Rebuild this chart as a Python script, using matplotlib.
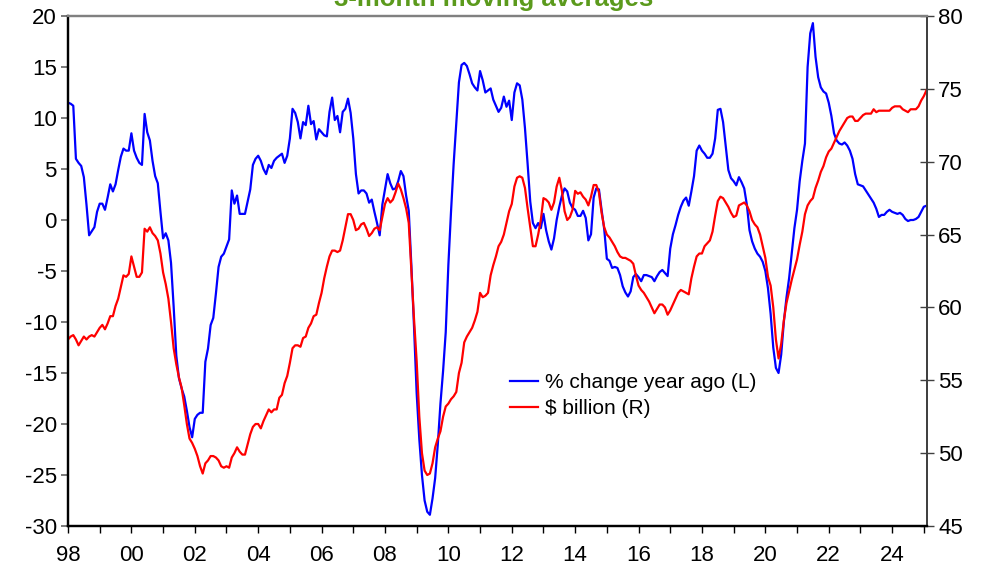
import numpy as np
import pandas as pd
import matplotlib
matplotlib.use("Agg")
import matplotlib.pyplot as plt

plt.rcParams['font.family'] = ['Liberation Sans', 'DejaVu Sans']
plt.rcParams['axes.unicode_minus'] = False

# --- Daten: 3-Monats-Durchschnitte, monatlich Jan 1998 bis Feb 2025 ---

# % change year ago (linke Achse)
pct_change = [
    11.5, 11.4, 11.2, 6.0, 5.6, 5.3, 4.2, 1.5, -1.5, -1.1, -0.7, 0.8,            # 1998
    1.6, 1.6, 1.0, 2.2, 3.5, 2.8, 3.5, 4.9, 6.2, 7.0, 6.8, 6.8,                  # 1999
    8.5, 6.8, 6.1, 5.6, 5.4, 10.4, 8.6, 7.8, 5.8, 4.3, 3.6, 0.8,                 # 2000
    -1.8, -1.3, -2.0, -4.2, -8.5, -13.3, -15.5, -16.5, -17.3, -18.7, -20.3, -21.3,  # 2001
    -19.5, -19.1, -18.9, -18.9, -13.9, -12.6, -10.3, -9.6, -7.2, -4.6, -3.6, -3.3,  # 2002
    -2.6, -1.9, 2.9, 1.6, 2.4, 0.6, 0.6, 0.6, 1.8, 3.0, 5.4, 6.0,                # 2003
    6.3, 5.8, 5.0, 4.5, 5.4, 5.1, 5.8, 6.1, 6.3, 6.5, 5.6, 6.3,                  # 2004
    8.0, 10.9, 10.5, 9.6, 8.0, 9.6, 9.3, 11.2, 9.4, 9.7, 7.9, 8.9,               # 2005
    8.6, 8.3, 8.2, 10.6, 12.0, 9.8, 10.2, 8.6, 10.6, 10.9, 11.9, 10.5,           # 2006
    8.0, 4.5, 2.6, 2.9, 2.9, 2.6, 1.7, 2.0, 0.8, -0.3, -1.5, 1.5,                # 2007
    3.0, 4.5, 3.6, 3.0, 3.1, 3.8, 4.8, 4.3, 2.4, 0.9, -4.5, -10.5,               # 2008
    -17.0, -21.5, -25.0, -27.5, -28.6, -28.9, -27.3, -25.3, -22.0, -18.0, -14.8, -11.0,  # 2009
    -4.4, 0.8, 5.5, 9.5, 13.5, 15.2, 15.4, 15.1, 14.3, 13.4, 13.0, 12.7,         # 2010
    14.6, 13.7, 12.5, 12.7, 12.9, 11.8, 11.2, 10.6, 11.0, 12.1, 11.1, 11.7,      # 2011
    9.8, 12.5, 13.4, 13.2, 11.8, 9.0, 5.5, 1.8, -0.3, -0.8, -0.3, -0.8,          # 2012
    0.6, -1.0, -2.1, -2.9, -1.8, 0.0, 1.3, 2.4, 3.1, 2.8, 1.7, 1.2,              # 2013
    1.0, 0.4, 0.4, 0.9, 0.2, -2.0, -1.4, 2.2, 3.1, 3.0, 1.0, -0.9,               # 2014
    -3.8, -4.0, -4.7, -4.6, -4.7, -5.4, -6.5, -7.1, -7.5, -7.0, -5.6, -5.3,      # 2015
    -5.6, -6.0, -5.4, -5.4, -5.5, -5.6, -6.0, -5.5, -5.1, -4.9, -5.2, -5.5,      # 2016
    -2.8, -1.4, -0.5, 0.5, 1.3, 1.9, 2.2, 1.4, 2.8, 4.3, 6.8, 7.3,               # 2017
    6.8, 6.5, 6.1, 6.1, 6.5, 8.0, 10.8, 10.9, 9.6, 7.2, 4.9, 4.1,                # 2018
    3.8, 3.4, 4.2, 3.7, 3.1, 1.5, -1.0, -2.1, -2.8, -3.3, -3.6, -4.1,            # 2019
    -5.0, -6.7, -9.2, -12.5, -14.5, -15.0, -13.2, -10.0, -7.6, -5.7, -3.2, -0.8,  # 2020
    1.0, 3.8, 5.8, 7.5, 15.0, 18.3, 19.3, 16.0, 14.0, 13.0, 12.6, 12.4,          # 2021
    11.5, 10.2, 8.5, 7.8, 7.5, 7.4, 7.6, 7.3, 6.8, 6.0, 4.5, 3.5,                # 2022
    3.4, 3.3, 2.9, 2.5, 2.1, 1.7, 1.1, 0.3, 0.5, 0.5, 0.8, 1.0,                  # 2023
    0.8, 0.7, 0.6, 0.7, 0.5, 0.1, -0.1, 0.0, 0.0, 0.1, 0.3, 0.8,                 # 2024
    1.3, 1.4,                                                                    # 2025
]

# $ billion (rechte Achse)
usd_billion = [
    57.8, 58.0, 58.1, 57.8, 57.4, 57.7, 58.0, 57.8, 58.0, 58.1, 58.0, 58.3,      # 1998
    58.6, 58.8, 58.5, 58.9, 59.4, 59.4, 60.1, 60.6, 61.4, 62.2, 62.1, 62.3,      # 1999
    63.5, 62.8, 62.1, 62.1, 62.4, 65.4, 65.2, 65.5, 65.1, 64.9, 64.6, 63.7,      # 2000
    62.4, 61.6, 60.6, 59.0, 57.2, 56.1, 55.2, 54.5, 53.3, 52.0, 51.0, 50.7,      # 2001
    50.3, 49.8, 49.1, 48.6, 49.3, 49.5, 49.8, 49.8, 49.7, 49.5, 49.1, 49.0,      # 2002
    49.1, 49.0, 49.7, 50.0, 50.4, 50.1, 49.9, 49.9, 50.6, 51.3, 51.8, 52.0,      # 2003
    52.0, 51.7, 52.2, 52.6, 53.0, 52.8, 53.0, 53.0, 53.8, 54.0, 54.8, 55.3,      # 2004
    56.2, 57.2, 57.4, 57.4, 57.3, 57.9, 58.0, 58.6, 58.9, 59.4, 59.5, 60.3,      # 2005
    61.0, 62.0, 62.8, 63.5, 63.9, 63.9, 63.8, 63.9, 64.6, 65.5, 66.4, 66.4,      # 2006
    66.0, 65.3, 65.4, 65.7, 65.8, 65.4, 64.9, 65.1, 65.4, 65.5, 65.3, 66.2,      # 2007
    67.1, 67.5, 67.2, 67.4, 67.9, 68.5, 68.1, 67.5, 66.8, 65.8, 62.5, 59.2,      # 2008
    56.3, 52.5, 50.0, 48.8, 48.5, 48.6, 49.3, 50.4, 51.0, 51.5, 52.5, 53.2,      # 2009
    53.4, 53.7, 53.9, 54.2, 55.5, 56.2, 57.6, 58.0, 58.3, 58.6, 59.1, 59.7,      # 2010
    61.0, 60.7, 60.8, 61.0, 62.2, 62.9, 63.5, 64.2, 64.5, 65.0, 65.8, 66.6,      # 2011
    67.1, 68.3, 68.9, 69.0, 68.9, 68.2, 66.8, 65.5, 64.2, 64.2, 65.0, 66.0,      # 2012
    67.5, 67.4, 67.2, 66.7, 67.2, 68.3, 68.9, 68.0, 66.6, 66.0, 66.2, 66.7,      # 2013
    68.0, 67.8, 67.9, 67.6, 67.4, 67.0, 67.6, 68.4, 68.4, 67.9, 66.5, 65.5,      # 2014
    65.0, 64.8, 64.5, 64.2, 63.8, 63.5, 63.4, 63.4, 63.3, 63.2, 63.0, 62.2,      # 2015
    61.5, 61.2, 61.0, 60.7, 60.4, 60.0, 59.6, 59.9, 60.2, 60.2, 60.0, 59.5,      # 2016
    59.8, 60.2, 60.6, 61.0, 61.2, 61.1, 61.0, 60.9, 62.0, 62.8, 63.5, 63.7,      # 2017
    63.7, 64.2, 64.4, 64.6, 65.2, 66.3, 67.3, 67.6, 67.5, 67.2, 66.9, 66.5,      # 2018
    66.2, 66.3, 67.0, 67.1, 67.2, 67.0, 66.6, 66.0, 65.7, 65.5, 65.0, 64.2,      # 2019
    63.4, 62.1, 61.5, 60.0, 57.8, 56.5, 57.5, 59.1, 60.3, 61.1, 61.9, 62.6,      # 2020
    63.3, 64.3, 65.2, 66.4, 67.0, 67.3, 67.5, 68.2, 68.7, 69.3, 69.7, 70.3,      # 2021
    70.7, 70.9, 71.3, 71.7, 72.1, 72.4, 72.7, 73.0, 73.1, 73.1, 72.8, 72.8,      # 2022
    73.0, 73.2, 73.3, 73.3, 73.3, 73.6, 73.4, 73.5, 73.5, 73.5, 73.5, 73.5,      # 2023
    73.7, 73.8, 73.8, 73.8, 73.6, 73.5, 73.4, 73.6, 73.6, 73.6, 73.8, 74.2,      # 2024
    74.5, 74.9,                                                                  # 2025
]

months = pd.period_range('1998-01', '2025-02', freq='M')
assert len(months) == len(pct_change) == len(usd_billion)
x_years = months.year + (months.month - 1) / 12.0

tick_years = list(range(1998, 2026))
tick_labels = [f"{y % 100:02d}" if y % 2 == 0 else "" for y in tick_years]

TITLE = "3-month moving averages"
GREEN = '#5b9a1c'

# --- Plot ---

fig = plt.figure(figsize=(9.87, 5.78), dpi=100)
ax = fig.add_axes([68 / 987, 52 / 578, 859 / 987, 510 / 578])
ax2 = ax.twinx()

line_pct, = ax.plot(x_years, pct_change, color='#0000ff', linewidth=1.6,
                    label='% change year ago (L)')
line_usd, = ax2.plot(x_years, usd_billion, color='#ff0000', linewidth=1.6,
                     label='$ billion (R)')

ax.set_xlim(1998, 2025.1)
ax.set_ylim(-30, 20)
ax2.set_ylim(45, 80)
ax.set_yticks(np.arange(-30, 21, 5))
ax2.set_yticks(np.arange(45, 81, 5))
ax.set_xticks(tick_years)
ax.set_xticklabels(tick_labels)

# Achsenlinien
for a in (ax, ax2):
    a.spines['top'].set_color('#808080')
    a.spines['top'].set_linewidth(1.6)
    a.spines['left'].set_color('black')
    a.spines['left'].set_linewidth(1.6)
    a.spines['bottom'].set_color('black')
    a.spines['bottom'].set_linewidth(1.6)
    a.spines['right'].set_color('#404040')
    a.spines['right'].set_linewidth(1.3)

ax.tick_params(axis='y', direction='out', length=5, width=1.3, color='#707070',
               labelsize=16, pad=3)
ax.tick_params(axis='x', direction='out', length=5, width=1.0, color='black',
               labelsize=16, pad=9)
ax2.tick_params(axis='y', direction='inout', length=10, width=1.0, color='#404040',
                labelsize=16, pad=3)

fig.text(0.5, 1 - 6 / 578, TITLE, ha='center', va='baseline', color=GREEN,
         fontsize=18.5, fontweight='bold')

ax2.legend(handles=[line_pct, line_usd], loc='upper left',
           bbox_to_anchor=(0.5146, 0.30), frameon=False, fontsize=15,
           handlelength=1.35, handletextpad=0.35, labelspacing=0.35,
           borderpad=0, borderaxespad=0)

fig.savefig('out.png', dpi=100)
plt.close(fig)
